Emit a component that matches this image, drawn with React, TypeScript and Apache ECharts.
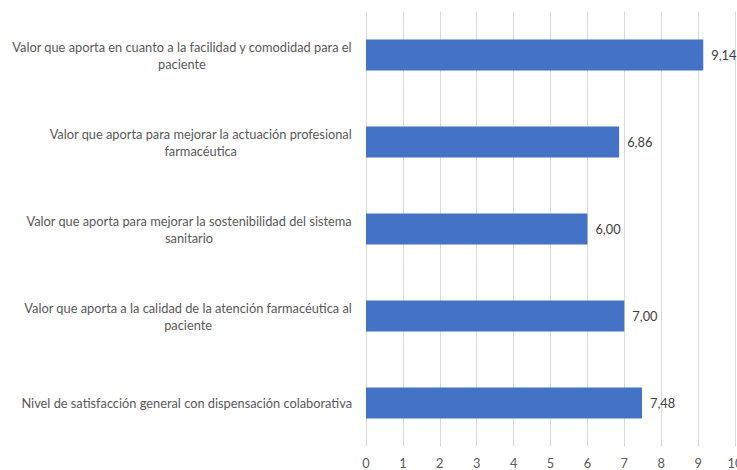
import React, { useEffect, useRef } from "react";
import * as echarts from "echarts";

const categories: string[] = [
  "Valor que aporta en cuanto a la facilidad y comodidad para el\npaciente",
  "Valor que aporta para mejorar la actuación profesional\nfarmacéutica",
  "Valor que aporta para mejorar la sostenibilidad del sistema\nsanitario",
  "Valor que aporta a la calidad de la atención farmacéutica al\npaciente",
  "Nivel de satisfacción general con dispensación colaborativa",
];
const values: number[] = [9.14, 6.86, 6.0, 7.0, 7.48];
const xMin = 0;
const xMax = 10;
const xInterval = 1;

const FONT = "Lato, 'Noto Sans', sans-serif";
const FS = 12.8;

export default function App() {
  const ref = useRef<HTMLDivElement>(null);
  useEffect(() => {
    if (!ref.current) return;
    const chart = echarts.init(ref.current, undefined, { renderer: "svg" });
    chart.setOption({
      animation: false,
      backgroundColor: "#ffffff",
      grid: {
        left: 366,
        right: 2,
        top: 11.5,
        bottom: 23.5,
        containLabel: false,
        outerBoundsMode: "none",
      },
      xAxis: {
        type: "value",
        min: xMin,
        max: xMax,
        interval: xInterval,
        axisLine: { show: false },
        axisTick: { show: false },
        splitLine: { show: true, lineStyle: { color: "#d9d9d9", width: 1 } },
        axisLabel: { color: "#595959", fontSize: FS, fontFamily: FONT, margin: 10 },
      },
      yAxis: {
        type: "category",
        data: categories,
        inverse: true,
        axisLine: { show: false },
        axisTick: { show: false },
        splitLine: { show: false },
        axisLabel: {
          margin: 14,
          align: "right",
          color: "#595959",
          fontSize: FS,
          fontFamily: FONT,
          formatter: (v: string) =>
            v
              .split("\n")
              .map((l) => `{c|${l}}`)
              .join("\n"),
          rich: {
            c: {
              align: "center",
              color: "#595959",
              fontSize: FS,
              fontFamily: FONT,
              lineHeight: 17,
            },
          },
        },
      },
      series: [
        {
          type: "bar",
          data: values,
          barWidth: 31,
          itemStyle: { color: "#4472C4" },
          label: {
            show: true,
            position: "right",
            distance: 8,
            color: "#404040",
            fontSize: FS,
            fontFamily: FONT,
            formatter: (p: any) => Number(p.value).toFixed(2).replace(".", ","),
          },
        },
      ],
    });
    return () => chart.dispose();
  }, []);
  return (
    <div
      ref={ref}
      style={{ position: "fixed", left: 0, top: 0, width: 737, height: 470 }}
    />
  );
}
